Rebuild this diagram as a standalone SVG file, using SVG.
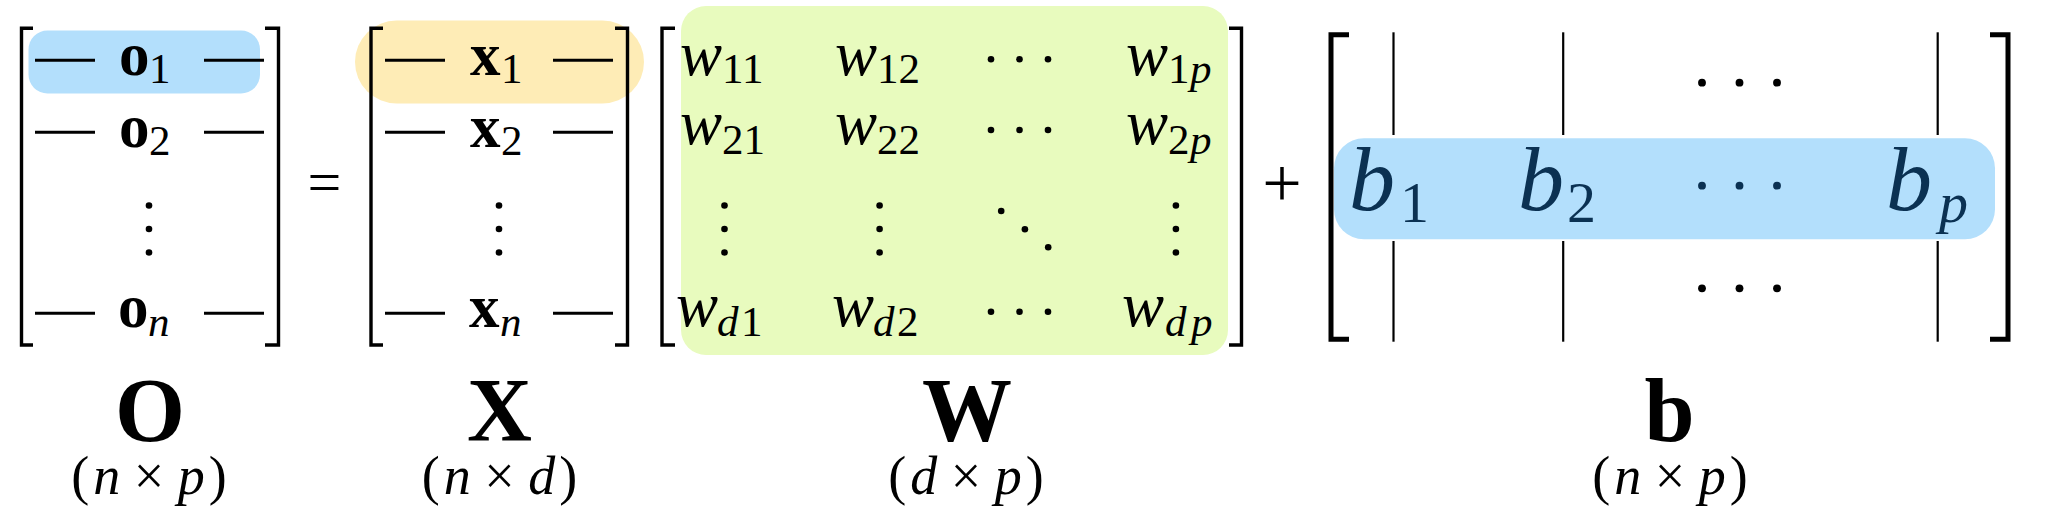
<svg xmlns="http://www.w3.org/2000/svg" width="2059" height="526" viewBox="0 0 2059 526">
<style>
text{font-family:"Liberation Serif","Times New Roman","DejaVu Serif",serif;fill:#000}
.bold{font-weight:bold;font-size:61px}
.it{font-style:italic;font-size:63px}
.sub{font-size:43px}
.subi{font-size:43px;font-style:italic}
.br{fill:none;stroke:#000;stroke-width:3.4}
.brb{fill:none;stroke:#000;stroke-width:5}
.dash{stroke:#000;stroke-width:3}
.vl{stroke:#000;stroke-width:2.2}
.lab{font-weight:bold;font-size:90px;text-anchor:middle}
.dim{font-size:54px;text-anchor:middle}
.op{text-anchor:middle}
.bt{fill:#0b3152}
.bb{font-style:italic;font-size:92px}
.bs{font-size:58px}
</style>
<defs>
<g id="vd"><circle cx="0" cy="-23.5" r="3.3"/><circle cx="0" cy="0" r="3.3"/><circle cx="0" cy="23.5" r="3.3"/></g>
<g id="hd"><circle cx="-28.5" cy="0" r="3.3"/><circle cx="0" cy="0" r="3.3"/><circle cx="28.5" cy="0" r="3.3"/></g>
<g id="hdb"><circle cx="-37.5" cy="0" r="3.9"/><circle cx="0" cy="0" r="3.9"/><circle cx="37.5" cy="0" r="3.9"/></g>
</defs>

<g id="matrix-O">
<rect x="28.5" y="30.5" width="231.5" height="63" rx="19" fill="#b3dffc"/>
<path class="br" d="M33 28.3 H21.5 V345 H33"/>
<path class="br" d="M265 28.3 H278.5 V345 H265"/>
<line class="dash" x1="35" y1="60.3" x2="95" y2="60.3"/>
<line class="dash" x1="204" y1="60.3" x2="264" y2="60.3"/>
<line class="dash" x1="35" y1="132.3" x2="95" y2="132.3"/>
<line class="dash" x1="204" y1="132.3" x2="264" y2="132.3"/>
<line class="dash" x1="35" y1="313.3" x2="95" y2="313.3"/>
<line class="dash" x1="204" y1="313.3" x2="264" y2="313.3"/>
<text class="bold" x="119" y="75">o</text><text class="sub" x="149" y="83">1</text>
<text class="bold" x="119" y="147">o</text><text class="sub" x="149" y="155">2</text>
<use href="#vd" x="149" y="229"/>
<text class="bold" x="118" y="327">o</text><text class="subi" x="148" y="336">n</text>
</g>

<g id="equals">
<text class="op" x="324.5" y="202" style="font-size:60px">=</text>
</g>

<g id="matrix-X">
<rect x="355" y="20.5" width="289" height="83" rx="41.5" fill="#feecb6"/>
<path class="br" d="M383 28.3 H371 V345 H383"/>
<path class="br" d="M615 28.3 H627.5 V345 H615"/>
<line class="dash" x1="385" y1="60.3" x2="445" y2="60.3"/>
<line class="dash" x1="553" y1="60.3" x2="613" y2="60.3"/>
<line class="dash" x1="385" y1="132.3" x2="445" y2="132.3"/>
<line class="dash" x1="553" y1="132.3" x2="613" y2="132.3"/>
<line class="dash" x1="385" y1="313.3" x2="445" y2="313.3"/>
<line class="dash" x1="553" y1="313.3" x2="613" y2="313.3"/>
<text class="bold" x="470" y="75">x</text><text class="sub" x="501" y="83">1</text>
<text class="bold" x="470" y="147">x</text><text class="sub" x="501" y="155">2</text>
<use href="#vd" x="499" y="229"/>
<text class="bold" x="469" y="327">x</text><text class="subi" x="500" y="336">n</text>
</g>

<g id="matrix-W">
<rect x="681" y="6" width="547" height="349" rx="25" fill="#e8fbbe"/>
<path class="br" d="M675 28.3 H662 V345 H675"/>
<path class="br" d="M1229 28.3 H1241.5 V345 H1229"/>
<text class="it" x="680" y="75">w</text><text class="sub" x="722" y="83">11</text>
<text class="it" x="835" y="75">w</text><text class="sub" x="877" y="83">12</text>
<use href="#hd" x="1019.5" y="59.3"/>
<text class="it" x="1126" y="75">w</text><text class="sub" x="1168" y="83">1</text><text class="subi" x="1190" y="83">p</text>
<text class="it" x="680" y="144">w</text><text class="sub" x="722" y="154">21</text>
<text class="it" x="835" y="144">w</text><text class="sub" x="877" y="154">22</text>
<use href="#hd" x="1019.5" y="130"/>
<text class="it" x="1126" y="144">w</text><text class="sub" x="1168" y="154">2</text><text class="subi" x="1190" y="154">p</text>
<use href="#vd" x="724.5" y="229"/>
<use href="#vd" x="879.6" y="229"/>
<use href="#vd" x="1175.9" y="229"/>
<circle cx="1001.2" cy="211" r="3.3"/>
<circle cx="1024.9" cy="229.3" r="3.3"/>
<circle cx="1048.2" cy="247.3" r="3.3"/>
<text class="it" x="676" y="326">w</text><text class="subi" x="717" y="336">d</text><text class="sub" x="741" y="336">1</text>
<text class="it" x="832" y="326">w</text><text class="subi" x="873" y="336">d</text><text class="sub" x="897" y="336">2</text>
<use href="#hd" x="1019.5" y="311.7"/>
<text class="it" x="1122" y="326">w</text><text class="subi" x="1165" y="336">d</text><text class="subi" x="1191" y="336">p</text>
</g>

<g id="plus">
<text class="op" x="1282" y="207" style="font-size:70px">+</text>
</g>

<g id="matrix-b">
<path class="brb" d="M1349 34.8 H1331 V339.2 H1349"/>
<path class="brb" d="M1990 34.8 H2008 V339.2 H1990"/>
<line class="vl" x1="1393.5" y1="32.3" x2="1393.5" y2="135"/>
<line class="vl" x1="1563.2" y1="32.3" x2="1563.2" y2="135"/>
<line class="vl" x1="1937.7" y1="32.3" x2="1937.7" y2="135"/>
<line class="vl" x1="1393.5" y1="241" x2="1393.5" y2="341.7"/>
<line class="vl" x1="1563.2" y1="241" x2="1563.2" y2="341.7"/>
<line class="vl" x1="1937.7" y1="241" x2="1937.7" y2="341.7"/>
<use href="#hdb" x="1739.5" y="82.7"/>
<use href="#hdb" x="1739.5" y="288.3"/>
<rect x="1334" y="138.3" width="661" height="101" rx="30" fill="#b3dffc"/>
<text class="bb bt" x="1349" y="210">b</text><text class="bs bt" x="1400" y="222">1</text>
<text class="bb bt" x="1518" y="210">b</text><text class="bs bt" x="1567" y="222">2</text>
<g class="bt"><use href="#hdb" x="1739.5" y="185.7"/></g>
<text class="bb bt" x="1886" y="210">b</text><text class="bs bt" x="1939" y="222" font-style="italic">p</text>
</g>

<g id="labels">
<text class="lab" x="150" y="441">O</text>
<text class="dim" x="149" y="494">(<tspan font-style="italic" dx="4">n</tspan> × <tspan font-style="italic">p</tspan><tspan dx="4">)</tspan></text>
<text class="lab" x="499.5" y="441">X</text>
<text class="dim" x="499.5" y="494">(<tspan font-style="italic" dx="4">n</tspan> × <tspan font-style="italic">d</tspan><tspan dx="4">)</tspan></text>
<text class="lab" x="967" y="441">W</text>
<text class="dim" x="966" y="494">(<tspan font-style="italic" dx="4">d</tspan> × <tspan font-style="italic">p</tspan><tspan dx="4">)</tspan></text>
<text class="lab" x="1669.5" y="441">b</text>
<text class="dim" x="1670" y="494">(<tspan font-style="italic" dx="4">n</tspan> × <tspan font-style="italic">p</tspan><tspan dx="4">)</tspan></text>
</g>
</svg>
